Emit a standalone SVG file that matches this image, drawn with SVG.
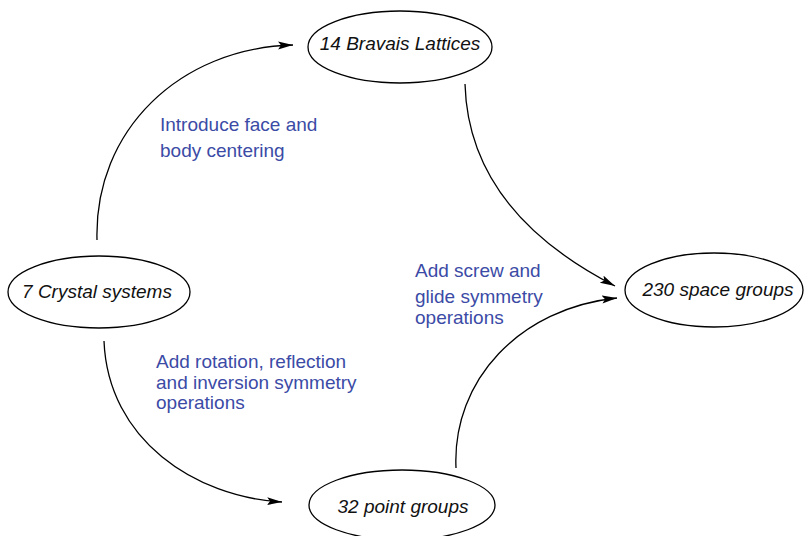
<svg xmlns="http://www.w3.org/2000/svg" width="804" height="536" viewBox="0 0 804 536">
  <style>
    .node ellipse { fill: #ffffff; stroke: #000000; stroke-width: 1.3; }
    .node text { font-family: "Liberation Sans", Arial, sans-serif; font-style: italic; font-size: 19px; fill: #111111; text-anchor: middle; }
    .edge { fill: none; stroke: #000000; stroke-width: 1.3; marker-end: url(#arrow); }
    .label { font-family: "Liberation Sans", Arial, sans-serif; font-size: 19px; fill: #3b4ba6; }
  </style>
  <defs>
    <marker id="arrow" markerUnits="userSpaceOnUse" markerWidth="16" markerHeight="10" refX="15" refY="4" orient="auto">
      <path d="M0,0 L15,4 L0,8 L3,4 z" fill="#000000"/>
    </marker>
  </defs>
  <rect width="804" height="536" fill="#ffffff"/>

  <g id="connectors">
    <path class="edge" d="M97,240 C94,130 180,48 293,45"/>
    <path class="edge" d="M465,84 C468,190 545,250 615,286"/>
    <path class="edge" d="M456,468 C452,380 520,308 617,298"/>
    <path class="edge" d="M104,341 C108,440 195,497 282,502"/>
  </g>

  <g id="labels">
    <text class="label" x="160" y="131">Introduce face and</text>
    <text class="label" x="160" y="157">body centering</text>
    <text class="label" x="415" y="277">Add screw and</text>
    <text class="label" x="415" y="303">glide symmetry</text>
    <text class="label" x="415" y="324">operations</text>
    <text class="label" x="156" y="368">Add rotation, reflection</text>
    <text class="label" x="156" y="389">and inversion symmetry</text>
    <text class="label" x="156" y="409">operations</text>
  </g>

  <g id="crystal-systems" class="node">
    <ellipse cx="99" cy="292" rx="91" ry="36"/>
    <text x="97" y="298">7 Crystal systems</text>
  </g>
  <g id="bravais-lattices" class="node">
    <ellipse cx="400" cy="47" rx="92" ry="36"/>
    <text x="400" y="50">14 Bravais Lattices</text>
  </g>
  <g id="space-groups" class="node">
    <ellipse cx="714" cy="290" rx="89" ry="37"/>
    <text x="718" y="296">230 space groups</text>
  </g>
  <g id="point-groups" class="node">
    <ellipse cx="402" cy="505" rx="93" ry="35"/>
    <text x="403" y="513">32 point groups</text>
  </g>
</svg>
